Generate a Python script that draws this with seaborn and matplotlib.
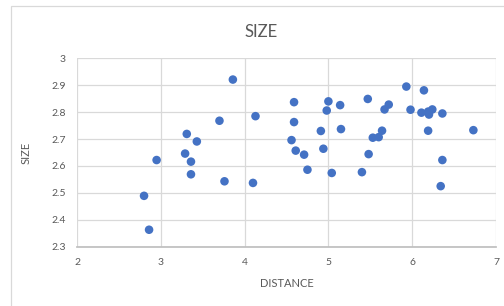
import pandas as pd
import seaborn as sns
import matplotlib.pyplot as plt
from matplotlib.patches import Rectangle

# values
distance = [2.80, 2.86, 2.95, 3.29, 3.31, 3.36, 3.36, 3.43, 3.70, 3.76, 3.86, 4.10, 4.13,
            4.56, 4.59, 4.59, 4.61, 4.71, 4.75, 4.91, 4.94, 4.98, 5.00, 5.04, 5.14, 5.15,
            5.40, 5.47, 5.48, 5.53, 5.60, 5.64, 5.67, 5.72, 5.93, 5.98, 6.11, 6.14, 6.19,
            6.20, 6.19, 6.24, 6.36, 6.36, 6.34, 6.73]
size = [2.489, 2.363, 2.622, 2.646, 2.719, 2.616, 2.569, 2.691, 2.768, 2.543, 2.921, 2.537, 2.785,
        2.696, 2.763, 2.837, 2.657, 2.642, 2.586, 2.730, 2.664, 2.806, 2.840, 2.574, 2.826, 2.737,
        2.577, 2.849, 2.644, 2.705, 2.707, 2.731, 2.810, 2.828, 2.895, 2.809, 2.798, 2.881, 2.802,
        2.791, 2.731, 2.810, 2.795, 2.622, 2.525, 2.733]
x_ticks = [2, 3, 4, 5, 6, 7]
y_ticks = [2.3, 2.4, 2.5, 2.6, 2.7, 2.8, 2.9, 3]

df = pd.DataFrame({"DISTANCE": distance, "SIZE": size})

sns.set_theme(style="white")
plt.rcParams['font.family'] = ['Lato', 'DejaVu Sans']
txt = "#595959"

fig = plt.figure(figsize=(5.04, 3.06), dpi=100)
ax = fig.add_axes([77 / 504, 1 - 246.7 / 306, (496 - 77) / 504, (246.7 - 58.3) / 306])

sns.scatterplot(data=df, x="DISTANCE", y="SIZE", ax=ax, color="#4472C4",
                s=38, edgecolor="none", zorder=3)

ax.set_xlim(2, 7)
ax.set_ylim(2.3, 3)
ax.set_xticks(x_ticks)
ax.set_xticklabels([str(t) for t in x_ticks])
ax.set_yticks(y_ticks)
ax.set_yticklabels([f"{t:g}" for t in y_ticks])
ax.grid(True, color="#d9d9d9", linewidth=0.9)
ax.set_axisbelow(True)
for side in ["top", "right", "left"]:
    ax.spines[side].set_visible(False)
ax.spines["bottom"].set_color("#bfbfbf")
ax.tick_params(axis="both", length=0, labelsize=7.5, labelcolor=txt, pad=8)

ax.set_xlabel("DISTANCE", fontsize=8, color=txt, labelpad=8)
ax.set_ylabel("SIZE", fontsize=8, color=txt, labelpad=14)
fig.text(261 / 504, 1 - 32 / 306, "SIZE", ha="center", va="center", fontsize=12, color=txt)

# chart frame
fig.patches.append(Rectangle((10.5 / 504, -0.05), 1.0, 1 - 6 / 306 + 0.05,
                             transform=fig.transFigure, fill=False,
                             edgecolor="#d9d9d9", linewidth=0.9))

fig.savefig("out.png", dpi=100)
